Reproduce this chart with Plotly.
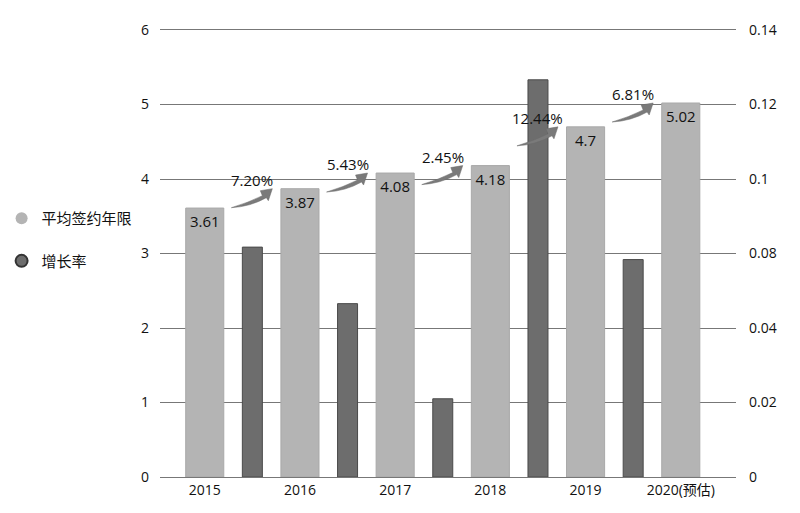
import numpy as np
import plotly.graph_objects as go

# data
years = ['2015', '2016', '2017', '2018', '2019', '2020(预估)']
avg_years = [3.61, 3.87, 4.08, 4.18, 4.7, 5.02]
growth = [0.072, 0.0543, 0.0245, 0.1244, 0.0681]
growth_labels = ['7.20%', '5.43%', '2.45%', '12.44%', '6.81%']
left_ticks = ['0', '1', '2', '3', '4', '5', '6']
right_ticks = ['0', '0.02', '0.04', '0.08', '0.1', '0.12', '0.14']

LIGHT = '#b4b4b4'
DARK = '#6d6d6d'
FONT = 'Open Sans, Noto Sans CJK SC, sans-serif'

pos = np.arange(len(years))
gpos = pos[:-1] + 0.5

fig = go.Figure()

fig.add_trace(go.Bar(
    x=pos, y=avg_years, width=0.4, yaxis='y',
    marker=dict(color=LIGHT, line=dict(color='#a9a9a9', width=1)),
    text=[str(v) for v in avg_years], textposition='inside',
    insidetextanchor='end', textangle=0,
    textfont=dict(color='#111', size=15, family=FONT),
    showlegend=False, hoverinfo='skip'))

fig.add_trace(go.Bar(
    x=gpos, y=growth, width=0.21, yaxis='y2',
    marker=dict(color=DARK, line=dict(color='#4a4a4a', width=1)),
    showlegend=False, hoverinfo='skip'))

# legend entries with round markers
fig.add_trace(go.Scatter(x=[None], y=[None], mode='markers', name='平均签约年限',
                         legendgroup='a',
                         marker=dict(color=LIGHT, size=16)))
fig.add_trace(go.Scatter(x=[None], y=[None], mode='markers', name='增长率',
                         legendgroup='b',
                         marker=dict(color=DARK, size=16,
                                     line=dict(color='#333', width=1))))

# swoosh arrows + growth labels between bars
swoosh = ('M -41,-19 Q -24,-14 -10,-7 L -12,-2 L 0,0 L -4,-12 '
          'L -6,-9 Q -22,-18 -41,-19 Z')
for i, lab in enumerate(growth_labels):
    fig.add_shape(type='path', xref='x', yref='y',
                  xsizemode='pixel', ysizemode='pixel',
                  xanchor=pos[i + 1] - 0.29, yanchor=avg_years[i + 1],
                  path=swoosh, fillcolor='#7a7a7a',
                  line=dict(color='#6a6a6a', width=0.5))
    fig.add_annotation(x=gpos[i], y=avg_years[i + 1], xref='x', yref='y',
                       text=lab, showarrow=False, yshift=9,
                       font=dict(size=15, color='#111', family=FONT))

# page body has an 8px margin, so the figure is offset by that much
fig.update_layout(
    width=800, height=513,
    margin=dict(l=152, r=72, t=22, b=44, autoexpand=False),
    paper_bgcolor='white', plot_bgcolor='white',
    font=dict(family=FONT, size=14, color='#111'),
    barmode='overlay',
    xaxis=dict(range=[-0.47, 5.58], tickvals=pos, ticktext=years,
               showgrid=False, zeroline=False, ticks='',
               showline=True, mirror=True, linecolor='#777', linewidth=1),
    yaxis=dict(range=[0, 6], tickvals=list(range(7)), ticktext=left_ticks,
               showgrid=True, gridcolor='#777', gridwidth=1,
               zeroline=False, ticks='', ticklabelstandoff=10),
    yaxis2=dict(range=[0, 0.14], overlaying='y', side='right',
                tickvals=np.linspace(0, 0.14, 7), ticktext=right_ticks,
                showgrid=False, zeroline=False, ticks='', ticklabelstandoff=12),
    legend=dict(x=-0.275, y=0.615, xanchor='left', yanchor='top',
                font=dict(size=15, family=FONT), itemsizing='constant',
                tracegroupgap=20, bgcolor='rgba(0,0,0,0)'),
)

fig.write_html('out.html')
